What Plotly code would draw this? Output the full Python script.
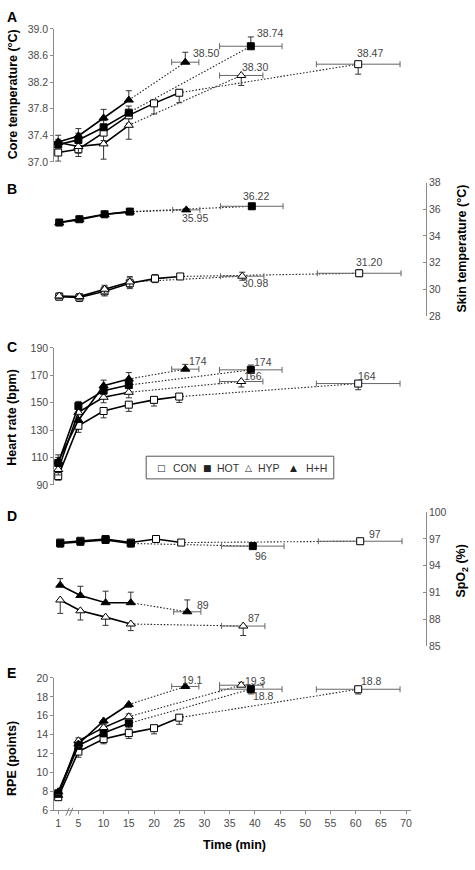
import plotly.graph_objects as go

W, H = 475, 870

GROUPS = ["CON", "HOT", "HYP", "H+H"]
T_CON = [1, 5, 10, 15, 20, 25]
T_EXP = [1, 5, 10, 15]
END_T = [60.5, 39.2, 37.3, 26.2]        # CON, HOT, HYP, H+H
END_T_SD = [8.3, 6.2, 4.3, 2.7]
X_TICKS = [1, 5, 10, 15, 20, 25, 30, 35, 40, 45, 50, 55, 60, 65, 70]

# ---- A: core temperature (°C)
CORE_CON = [37.14, 37.19, 37.44, 37.70, 37.88, 38.04]
CORE_HOT = [37.26, 37.33, 37.52, 37.74]
CORE_HYP = [37.29, 37.23, 37.27, 37.55]
CORE_HH = [37.30, 37.39, 37.66, 37.93]
CORE_CON_SD = [0.13, 0.11, 0.12, 0.12, 0.16, 0.15]
CORE_HOT_SD = [0.08, 0.10, 0.10, 0.10]
CORE_HYP_SD = [0.08, 0.10, 0.23, 0.21]
CORE_HH_SD = [0.10, 0.11, 0.13, 0.14]
CORE_END = [38.47, 38.74, 38.30, 38.50]
CORE_END_SD = [0.15, 0.14, 0.15, 0.15]
CORE_LABELS = ["38.47", "38.74", "38.30", "38.50"]
CORE_TICKS = [37.0, 37.4, 37.8, 38.2, 38.6, 39.0]

# ---- B: skin temperature (°C)
SKIN_CON = [29.45, 29.38, 29.85, 30.45, 30.80, 30.96]
SKIN_HOT = [35.00, 35.25, 35.62, 35.82]
SKIN_HYP = [29.50, 29.45, 30.00, 30.55]
SKIN_HH = [34.98, 35.22, 35.60, 35.80]
SKIN_CON_SD = [0.25, 0.30, 0.35, 0.40, 0.30, 0.20]
SKIN_HOT_SD = [0.10, 0.10, 0.10, 0.10]
SKIN_HYP_SD = [0.20, 0.20, 0.30, 0.40]
SKIN_HH_SD = [0.10, 0.10, 0.10, 0.10]
SKIN_END = [31.20, 36.22, 30.98, 35.95]
SKIN_END_SD = [0.25, 0.10, 0.30, 0.10]
SKIN_LABELS = ["31.20", "36.22", "30.98", "35.95"]
SKIN_TICKS = [28, 30, 32, 34, 36, 38]

# ---- C: heart rate (bpm)
HR_CON = [96.5, 133.2, 144.0, 148.6, 152.1, 154.5]
HR_HOT = [106.1, 147.6, 158.8, 162.9]
HR_HYP = [101.3, 143.0, 154.0, 157.6]
HR_HH = [107.3, 137.3, 162.4, 167.3]
HR_CON_SD = [3.0, 4.8, 5.0, 4.9, 4.5, 4.3]
HR_HOT_SD = [4.0, 3.4, 3.5, 4.0]
HR_HYP_SD = [4.0, 4.0, 4.0, 4.0]
HR_HH_SD = [4.7, 4.0, 4.1, 4.7]
HR_END = [164.0, 174.0, 165.5, 174.5]
HR_END_SD = [4.5, 3.5, 4.0, 3.5]
HR_LABELS = ["164", "174", "166", "174"]
HR_TICKS = [90, 110, 130, 150, 170, 190]

# ---- D: SpO2 (%)
SPO2_CON = [96.6, 96.8, 97.0, 96.6, 97.0, 96.6]
SPO2_HOT = [96.5, 96.7, 96.9, 96.5]
SPO2_HYP = [90.16, 88.95, 88.24, 87.47]
SPO2_HH = [91.82, 90.67, 89.86, 89.86]
SPO2_CON_SD = [0.3, 0.3, 0.3, 0.3, 0.3, 0.3]
SPO2_HOT_SD = [0.4, 0.4, 0.4, 0.4]
SPO2_HYP_SD = [1.5, 1.03, 0.92, 0.74]
SPO2_HH_SD = [0.74, 1.03, 1.29, 1.18]
SPO2_END = [96.75, 96.2, 87.24, 88.84]
SPO2_END_SD = [0.3, 0.3, 1.06, 1.33]
SPO2_LABELS = ["97", "96", "87", "89"]
SPO2_TICKS = [85, 88, 91, 94, 97, 100]

# ---- E: RPE (points)
RPE_CON = [7.40, 12.22, 13.54, 14.17, 14.69, 15.80]
RPE_HOT = [7.81, 12.85, 14.17, 15.20]
RPE_HYP = [7.60, 13.36, 14.75, 15.90]
RPE_HH = [7.98, 13.02, 15.45, 17.19]
RPE_CON_SD = [0.3, 0.6, 0.5, 0.57, 0.6, 0.7]
RPE_HOT_SD = [0.3, 0.4, 0.4, 0.5]
RPE_HYP_SD = [0.3, 0.3, 0.3, 0.3]
RPE_HH_SD = [0.3, 0.3, 0.3, 0.3]
RPE_END = [18.8, 18.81, 19.23, 19.1]
RPE_END_SD = [0.5, 0.5, 0.3, 0.2]
RPE_LABELS = ["18.8", "18.8", "19.3", "19.1"]
RPE_TICKS = [6, 8, 10, 12, 14, 16, 18, 20]

LEGEND_SYMBOLS = ["□", "■", "△", "▲"]

# ---------------- styling / layout constants ----------------
FONT = "Arial, Liberation Sans, Helvetica, sans-serif"
TICK_COL = "#4a4a4a"
AX_COL = "#8a8a8a"
X_RANGE = [0, 71]
X_LEFT, X_RIGHT = 53.3, 412.0
RIGHT_AXIS_X = 426.7

def px(x):
    return x / W

def py(y):
    return 1 - y / H

MARKERS = {
    "CON": dict(symbol="square", size=7, color="white", line=dict(color="black", width=1)),
    "HOT": dict(symbol="square", size=7, color="black", line=dict(color="black", width=1)),
    "HYP": dict(symbol="triangle-up", size=8, color="white", line=dict(color="black", width=1)),
    "H+H": dict(symbol="triangle-up", size=8, color="black", line=dict(color="black", width=1)),
}

panels = [
    dict(letter="A", vals=[CORE_CON, CORE_HOT, CORE_HYP, CORE_HH],
         sds=[CORE_CON_SD, CORE_HOT_SD, CORE_HYP_SD, CORE_HH_SD],
         end=CORE_END, end_sd=CORE_END_SD, labels=CORE_LABELS, ticks=CORE_TICKS,
         fmt=".1f", rng=[37, 39], top=23.3, bot=158.0, side="left",
         title="Core temperature (°C)", title_y=89, letter_y=11, shift=0,
         ydir=[-1, 1, -1, 1],
         off=[(12, -11), (19, -13), (14, -8), (21, -9)]),
    dict(letter="B", vals=[SKIN_CON, SKIN_HOT, SKIN_HYP, SKIN_HH],
         sds=[SKIN_CON_SD, SKIN_HOT_SD, SKIN_HYP_SD, SKIN_HH_SD],
         end=SKIN_END, end_sd=SKIN_END_SD, labels=SKIN_LABELS, ticks=SKIN_TICKS,
         fmt="d", rng=[28, 38], top=179.0, bot=314.3, side="right",
         title="Skin temperature (°C)", title_y=246.5, letter_y=186, shift=1,
         ydir=[0, 0, 0, 0],
         off=[(10, -11), (4, -10), (13, 7), (9, 8)]),
    dict(letter="C", vals=[HR_CON, HR_HOT, HR_HYP, HR_HH],
         sds=[HR_CON_SD, HR_HOT_SD, HR_HYP_SD, HR_HH_SD],
         end=HR_END, end_sd=HR_END_SD, labels=HR_LABELS, ticks=HR_TICKS,
         fmt="d", rng=[90, 190], top=346.7, bot=485.7, side="left",
         title="Heart rate (bpm)", title_y=417, letter_y=346, shift=0,
         ydir=[-1, 1, -1, 1],
         off=[(9, -8), (12, -8), (12, -6), (13, -8)]),
    dict(letter="D", vals=[SPO2_CON, SPO2_HOT, SPO2_HYP, SPO2_HH],
         sds=[SPO2_CON_SD, SPO2_HOT_SD, SPO2_HYP_SD, SPO2_HH_SD],
         end=SPO2_END, end_sd=SPO2_END_SD, labels=SPO2_LABELS, ticks=SPO2_TICKS,
         fmt="d", rng=[85, 100], top=513.3, bot=649.0, side="right",
         title="SpO<sub>2</sub> (%)", title_y=573, letter_y=517, shift=2,
         ydir=[0, 0, -1, 1],
         off=[(15, -7), (8, 10), (11, -8), (16, -7)]),
    dict(letter="E", vals=[RPE_CON, RPE_HOT, RPE_HYP, RPE_HH],
         sds=[RPE_CON_SD, RPE_HOT_SD, RPE_HYP_SD, RPE_HH_SD],
         end=RPE_END, end_sd=RPE_END_SD, labels=RPE_LABELS, ticks=RPE_TICKS,
         fmt="d", rng=[6, 20], top=681.3, bot=815.7, side="left",
         title="RPE (points)", title_y=763, letter_y=676, shift=0,
         ydir=[-1, -1, 1, -1],
         off=[(13, -8), (13, 6.5), (14, -4), (7, -6)]),
]

def err_y(sd, d, color="#333333"):
    n = len(sd)
    if d > 0:
        return dict(type="data", symmetric=False, array=sd, arrayminus=[0] * n,
                    color=color, thickness=1, width=3)
    if d < 0:
        return dict(type="data", symmetric=False, array=[0] * n, arrayminus=sd,
                    color=color, thickness=1, width=3)
    return dict(type="data", array=sd, color=color, thickness=1, width=3)

fig = go.Figure()
layout = {}
annotations = []

def ann(**kw):
    kw.setdefault("xanchor", "center")
    kw.setdefault("yanchor", "middle")
    kw.setdefault("showarrow", False)
    annotations.append(kw)

for i, p in enumerate(panels):
    k = i + 1
    xa = "x" if k == 1 else f"x{k}"
    ya = "y" if k == 1 else f"y{k}"
    xname = "xaxis" if k == 1 else f"xaxis{k}"
    yname = "yaxis" if k == 1 else f"yaxis{k}"
    sh = p["shift"]
    last = (k == 5)
    xax = dict(
        domain=[px(X_LEFT + sh), px(X_RIGHT + sh)], range=X_RANGE, anchor=ya,
        visible=last, showgrid=False, zeroline=False,
    )
    if last:
        xax.update(
            showline=True, linecolor=AX_COL, linewidth=1,
            ticks="outside", ticklen=3, tickcolor=AX_COL,
            tickvals=X_TICKS, ticktext=[str(v) for v in X_TICKS],
            tickfont=dict(family=FONT, size=10.5, color=TICK_COL),
        )
    layout[xname] = xax
    yax = dict(
        domain=[py(p["bot"]), py(p["top"])], range=p["rng"],
        showgrid=False, zeroline=False, showline=True, linecolor=AX_COL, linewidth=1,
        tickvals=p["ticks"], ticktext=[format(v, p["fmt"]) for v in p["ticks"]],
        ticklen=3, tickcolor=AX_COL,
        tickfont=dict(family=FONT, size=10.5, color=TICK_COL),
    )
    if p["side"] == "left":
        yax.update(side="left", anchor="free", position=px(X_LEFT), ticks="outside")
    else:
        yax.update(side="right", anchor="free", position=px(RIGHT_AXIS_X), ticks="inside")
    layout[yname] = yax

    order = [0, 2, 1, 3]
    # dotted connectors
    for g in order:
        tt = T_CON if g == 0 else T_EXP
        fig.add_trace(go.Scatter(
            x=[tt[-1], END_T[g]], y=[p["vals"][g][-1], p["end"][g]],
            mode="lines", line=dict(color="#222222", width=1.1, dash="1.5px,1.8px"),
            xaxis=xa, yaxis=ya, hoverinfo="skip", showlegend=False))
    # end points with horizontal error bars
    for g in order:
        fig.add_trace(go.Scatter(
            x=[END_T[g]], y=[p["end"][g]], mode="markers",
            marker=MARKERS[GROUPS[g]],
            error_x=dict(type="data", array=[END_T_SD[g]], color="#666666", thickness=1, width=3),
            error_y=err_y([p["end_sd"][g]], p["ydir"][g]),
            xaxis=xa, yaxis=ya, showlegend=False, name=GROUPS[g]))
    # main solid series
    for g in order:
        tt = T_CON if g == 0 else T_EXP
        fig.add_trace(go.Scatter(
            x=tt, y=p["vals"][g], mode="lines+markers",
            line=dict(color="black", width=1.6),
            marker=MARKERS[GROUPS[g]],
            error_y=err_y(p["sds"][g], p["ydir"][g]),
            xaxis=xa, yaxis=ya, showlegend=False, name=GROUPS[g]))
    # value labels at end points
    for g in range(4):
        dx, dy = p["off"][g]
        ann(x=END_T[g], y=p["end"][g], xref=xa, yref=ya, text=p["labels"][g],
            xshift=dx, yshift=-dy,
            font=dict(family=FONT, size=10.5, color="#444444"))
    # panel letter
    ann(x=px(11.7), y=py(p["letter_y"]), xref="paper", yref="paper",
        text=f"<b>{p['letter']}</b>",
        font=dict(family=FONT, size=14, color="black"))
    # axis title
    tx = 12.5 if p["side"] == "left" else 463.5
    ann(x=px(tx), y=py(p["title_y"]), xref="paper", yref="paper",
        text=f"<b>{p['title']}</b>", textangle=-90,
        font=dict(family=FONT, size=12.5, color="black"))

# x-axis title
ann(x=px(235), y=py(851), xref="paper", yref="paper", text="<b>Time (min)</b>",
    font=dict(family=FONT, size=12.5, color="black"))

# boxed legend inside panel C
shapes = [dict(type="rect", xref="paper", yref="paper",
               x0=px(146.5), x1=px(334.5), y0=py(479.5), y1=py(456.5),
               line=dict(color="#555555", width=1), fillcolor="white", layer="above")]
LEG_SYM_X = [161.5, 207.5, 249.5, 294.0]
LEG_TXT_X = [171.0, 215.5, 257.0, 304.5]
for g in range(4):
    ann(x=px(LEG_SYM_X[g]), y=py(468.5), xref="paper", yref="paper",
        text=LEGEND_SYMBOLS[g], font=dict(family="DejaVu Sans", size=9, color="#222222"))
    ann(x=px(LEG_TXT_X[g]), y=py(468), xref="paper", yref="paper", xanchor="left",
        text=GROUPS[g], font=dict(family=FONT, size=10.5, color="#333333"))

# axis break marks on the time axis
for bx in (66.0, 69.5):
    shapes.append(dict(type="line", xref="paper", yref="paper",
                       x0=px(bx), y0=py(821), x1=px(bx + 3.5), y1=py(813),
                       line=dict(color="#777777", width=1)))

fig.update_layout(
    width=W, height=H, margin=dict(l=0, r=0, t=0, b=0),
    paper_bgcolor="white", plot_bgcolor="white", showlegend=False,
    font=dict(family=FONT, color="#333333"),
    annotations=annotations, shapes=shapes, **layout)

fig.write_html("out.html")
